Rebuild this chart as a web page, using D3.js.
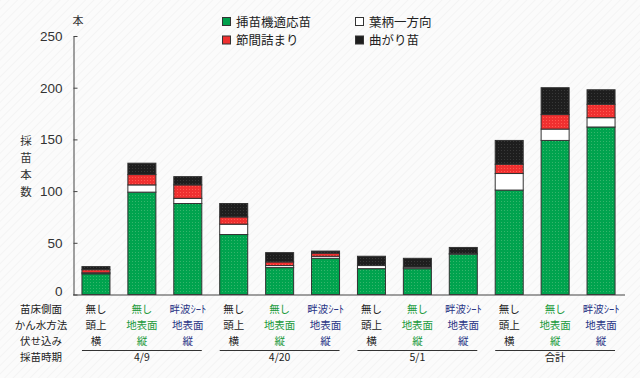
<!DOCTYPE html>
<html>
<head>
<meta charset="utf-8">
<script src="https://cdn.jsdelivr.net/npm/d3@7"></script>
<style>
  html, body { margin: 0; padding: 0; background: #fff; }
  svg { display: block; }
</style>
</head>
<body>
<div id="chart"></div>
<script>
// 採苗本数 (per bar, bottom to top)
var groups = ['4/9', '4/20', '5/1', '合計'];
var bedLabels = ['無し', '無し', '畔波ｼｰﾄ', '無し', '無し', '畔波ｼｰﾄ', '無し', '無し', '畔波ｼｰﾄ', '無し', '無し', '畔波ｼｰﾄ'];
var waterLabels = ['頭上', '地表面', '地表面', '頭上', '地表面', '地表面', '頭上', '地表面', '地表面', '頭上', '地表面', '地表面'];
var plantLabels = ['横', '縦', '縦', '横', '縦', '縦', '横', '縦', '縦', '横', '縦', '縦'];
var rowTitles = ['苗床側面', 'かん水方法', '伏せ込み', '採苗時期'];

var seriesNames = ['挿苗機適応苗', '葉柄一方向', '節間詰まり', '曲がり苗'];
var fitValues   = [20, 99, 88, 58, 26, 35, 25, 25, 39, 101, 149, 162];
var petioleVals = [1, 7, 5, 10, 2, 2, 3, 1.5, 0.5, 16, 11, 9];
var internodeVals = [3, 10, 13, 7, 3.5, 3, 0, 0, 0, 9, 14, 13];
var bentVals    = [3, 11, 8, 13, 9, 2, 9, 8.5, 6, 23, 26, 14];
var yTicks = [0, 50, 100, 150, 200, 250];

var width = 640, height = 378;
var labelColors = ['#222', '#1b9a3c', '#2a3686'];

var svg = d3.select('#chart').append('svg')
  .attr('width', width).attr('height', height);

var defs = svg.append('defs');
var bg = defs.append('pattern').attr('id', 'bg')
  .attr('width', 6).attr('height', 6)
  .attr('patternUnits', 'userSpaceOnUse')
  .attr('patternTransform', 'rotate(45)');
bg.append('rect').attr('width', 6).attr('height', 6).attr('fill', '#fbfbfb');
bg.append('line').attr('x1', 0).attr('y1', 0).attr('x2', 0).attr('y2', 6)
  .attr('stroke', '#eeeeee').attr('stroke-width', 1);

var gp = defs.append('pattern').attr('id', 'greenDots')
  .attr('width', 3).attr('height', 3).attr('patternUnits', 'userSpaceOnUse');
gp.append('rect').attr('width', 3).attr('height', 3).attr('fill', '#00a34e');
gp.append('rect').attr('width', 1).attr('height', 1).attr('fill', '#35b56c');

var rp = defs.append('pattern').attr('id', 'redDots')
  .attr('width', 3).attr('height', 3).attr('patternUnits', 'userSpaceOnUse');
rp.append('rect').attr('width', 3).attr('height', 3).attr('fill', '#f03030');
rp.append('rect').attr('width', 1).attr('height', 1).attr('fill', '#ff5a50');

var kp = defs.append('pattern').attr('id', 'blackDots')
  .attr('width', 3).attr('height', 3).attr('patternUnits', 'userSpaceOnUse');
kp.append('rect').attr('width', 3).attr('height', 3).attr('fill', '#1e1e1e');
kp.append('rect').attr('width', 1).attr('height', 1).attr('fill', '#383838');

var fills = ['url(#greenDots)', '#ffffff', 'url(#redDots)', 'url(#blackDots)'];
var legendFills = ['#00a04c', '#ffffff', '#f03030', '#1e1e1e'];

svg.append('rect').attr('width', width).attr('height', height).attr('fill', 'url(#bg)');

var jp = '"Noto Sans CJK JP", sans-serif';
var num = '"Liberation Sans", Arial, sans-serif';

var y = d3.scaleLinear().domain([0, 250]).range([294.5, 36]);
var x = d3.scaleBand().domain(d3.range(12)).range([73, 624])
  .paddingInner(0.39).paddingOuter(0.195);

// stacked data
var rows = d3.range(12).map(function(i) {
  return { i: i, s0: fitValues[i], s1: petioleVals[i], s2: internodeVals[i], s3: bentVals[i] };
});
var stack = d3.stack().keys(['s0', 's1', 's2', 's3']);
var layers = stack(rows);

var layerG = svg.append('g').selectAll('g')
  .data(layers).enter().append('g')
  .attr('fill', function(d, k) { return fills[k]; });

layerG.selectAll('rect')
  .data(function(d) { return d.filter(function(p) { return p[1] - p[0] > 0; }); })
  .enter().append('rect')
  .attr('x', function(d) { return x(d.data.i); })
  .attr('width', x.bandwidth())
  .attr('y', function(d) { return y(d[1]); })
  .attr('height', function(d) { return y(d[0]) - y(d[1]); })
  .attr('stroke', '#333')
  .attr('stroke-width', 1);

// y axis
var yAxis = d3.axisLeft(y).tickValues(yTicks)
  .tickSizeInner(-4).tickSizeOuter(0).tickPadding(11);
var ya = svg.append('g').attr('transform', 'translate(73.5,0)').call(yAxis);
ya.select('.domain').attr('stroke', '#444');
ya.selectAll('.tick line').attr('stroke', '#444');
ya.selectAll('text').attr('font-family', num).attr('font-size', 13.5).attr('fill', '#333');
ya.selectAll('.tick').filter(function(d) { return d === 0; })
  .select('text').attr('dy', '0.1em');

// x baseline
svg.append('line')
  .attr('x1', 73).attr('x2', 625)
  .attr('y1', y(0) + 0.5).attr('y2', y(0) + 0.5)
  .attr('stroke', '#444').attr('stroke-width', 1.2);

// unit and title
svg.append('text').attr('x', 78).attr('y', 25)
  .attr('font-family', jp).attr('font-size', 11).attr('fill', '#333')
  .attr('text-anchor', 'middle').text('本');

svg.append('g').selectAll('text').data('採苗本数'.split('')).enter().append('text')
  .attr('font-family', jp).attr('font-size', 11.5).attr('fill', '#333')
  .attr('text-anchor', 'middle')
  .attr('x', 26).attr('y', function(d, i) { return 145 + i * 17; })
  .text(function(d) { return d; });

// legend
var legendPos = [[223, 22], [356, 22], [223, 40.5], [356, 40.5]];
var legendOrder = [0, 1, 2, 3];
var lg = svg.append('g').selectAll('g').data(legendOrder).enter().append('g')
  .attr('transform', function(d, k) { return 'translate(' + legendPos[k][0] + ',' + legendPos[k][1] + ')'; });
lg.append('rect').attr('x', -0.5).attr('y', -4.5).attr('width', 8).attr('height', 8)
  .attr('fill', function(d) { return legendFills[d]; })
  .attr('stroke', '#333').attr('stroke-width', 1);
lg.append('text').attr('x', 13).attr('y', 4.5)
  .attr('font-family', jp).attr('font-size', 12.5).attr('fill', '#222')
  .text(function(d) { return seriesNames[d]; });

// category rows
var rowY = [312.5, 328.5, 344.5, 361];
svg.append('g').selectAll('text').data(rowTitles).enter().append('text')
  .attr('x', 41).attr('y', function(d, i) { return rowY[i]; })
  .attr('text-anchor', 'middle')
  .attr('font-family', jp).attr('font-size', 10.5).attr('fill', '#222')
  .text(function(d) { return d; });

[bedLabels, waterLabels, plantLabels].forEach(function(arr, r) {
  svg.append('g').selectAll('text').data(arr).enter().append('text')
    .attr('x', function(d, i) { return x(i) + x.bandwidth() / 2; })
    .attr('y', rowY[r])
    .attr('text-anchor', 'middle')
    .attr('font-family', jp).attr('font-size', 10.5)
    .attr('fill', function(d, i) { return labelColors[i % 3]; })
    .text(function(d) { return d; });
});

// group underlines and dates
var gg = svg.append('g').selectAll('g').data(groups).enter().append('g');
gg.append('line')
  .attr('x1', function(d, g) { return x(g * 3); })
  .attr('x2', function(d, g) { return x(g * 3 + 2) + x.bandwidth(); })
  .attr('y1', 350.5).attr('y2', 350.5)
  .attr('stroke', '#333').attr('stroke-width', 1);
gg.append('text')
  .attr('x', function(d, g) { return x(g * 3 + 1) + x.bandwidth() / 2; })
  .attr('y', rowY[3])
  .attr('text-anchor', 'middle')
  .attr('font-family', jp).attr('font-size', 10.5).attr('fill', '#222')
  .text(function(d) { return d; });
</script>
</body>
</html>
